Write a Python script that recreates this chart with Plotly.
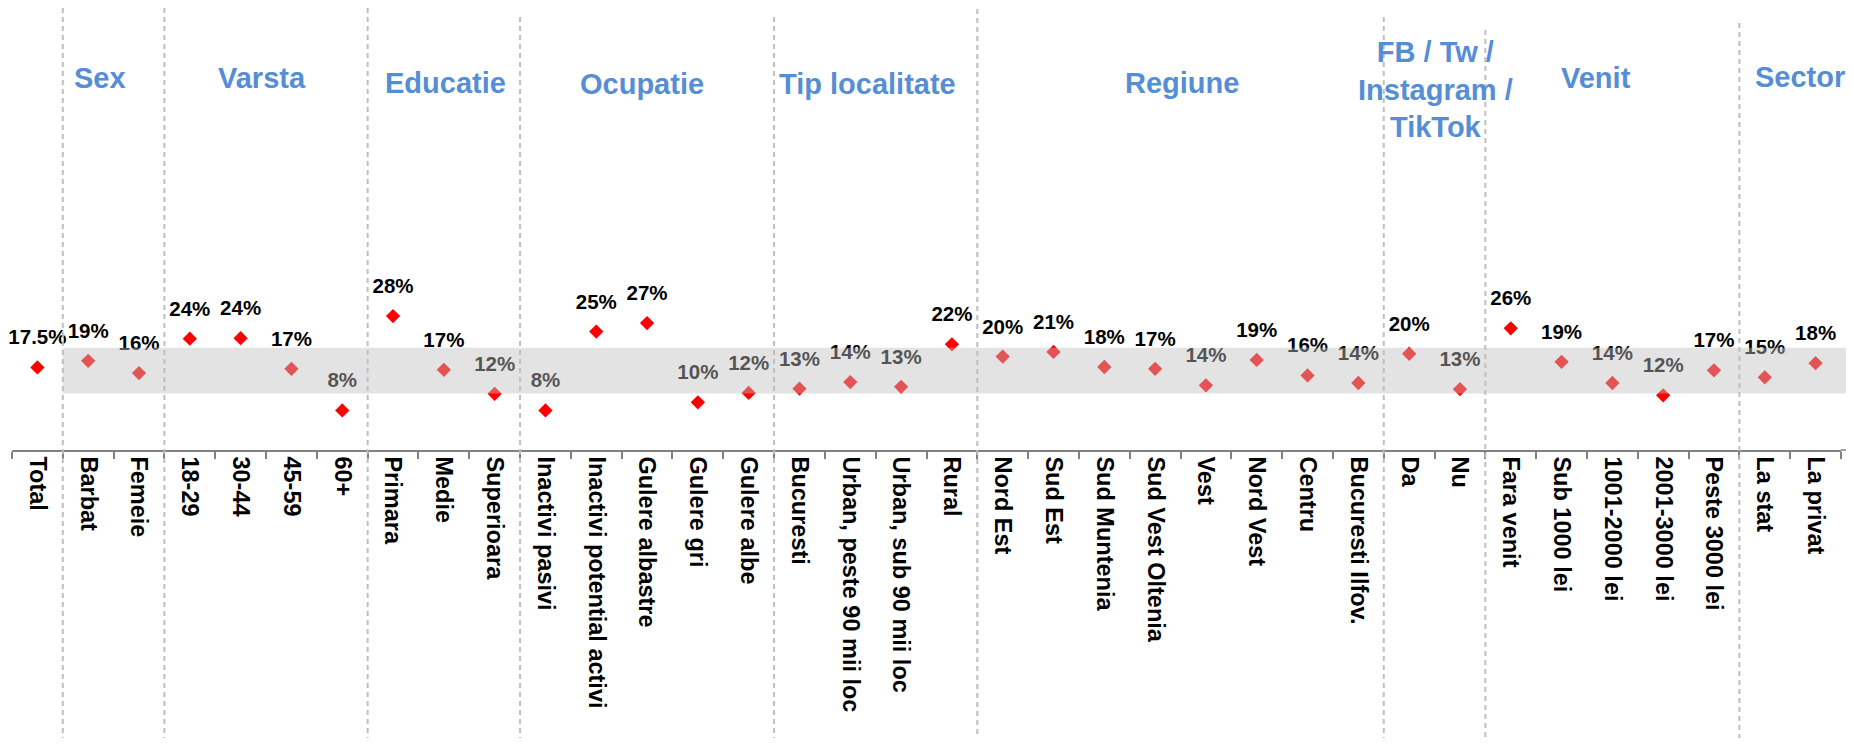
import plotly.graph_objects as go

categories = ["Total", "Barbat", "Femeie", "18-29", "30-44", "45-59", "60+",
              "Primara", "Medie", "Superioara", "Inactivi pasivi",
              "Inactivi potential activi", "Gulere albastre", "Gulere gri",
              "Gulere albe", "Bucuresti", "Urban, peste 90 mii loc",
              "Urban, sub 90 mii loc", "Rural", "Nord Est", "Sud Est",
              "Sud Muntenia", "Sud Vest Oltenia", "Vest", "Nord Vest", "Centru",
              "Bucuresti Ilfov.", "Da", "Nu", "Fara venit", "Sub 1000 lei",
              "1001-2000 lei", "2001-3000 lei", "Peste 3000 lei", "La stat",
              "La privat"]
values = [17.5, 18.9, 16.3, 23.6, 23.7, 17.2, 8.4,
          28.4, 17.0, 11.9, 8.4,
          25.1, 26.9, 10.1,
          12.1, 13.0, 14.4,
          13.4, 22.4, 19.8, 20.8,
          17.6, 17.2, 13.7, 19.1, 15.8,
          14.2, 20.4, 12.9, 25.8, 18.7,
          14.2, 11.6, 16.9, 15.4,
          18.4]
labels = ["17.5%"] + [f"{v:.0f}%" for v in values[1:]]

group_names = ["Sex", "Varsta", "Educatie", "Ocupatie", "Tip localitate",
               "Regiune", "FB / Tw /<br>Instagram /<br>TikTok", "Venit", "Sector"]
group_x = [1.24, 4.42, 8.04, 11.9, 16.33, 22.53, 27.51, 30.68, 34.7]    # position in category units
group_ypx = [78, 78, 83, 84, 84, 83, 89, 78, 77]                        # header centre, px from page top
separators = [1, 3, 7, 10, 15, 19, 27, 29, 34]                          # category boundaries
separator_top_px = [0, 0, 6, 17, 17, 9, 17, 30, 23]

band_low, band_high = 12.0, 21.7
y_min, y_max = 0.0, 93.7

OFF = 8                       # default page body margin
W, H = 1838, 734
ML, MR, MT, MB = 4, 5, 0, 292
plot_h = H - MT - MB
plot_w = W - ML - MR
n = len(categories)

FONT = "Liberation Sans, Arial, sans-serif"

fig = go.Figure()
fig.add_trace(go.Scatter(
    x=categories, y=values, mode="markers",
    marker=dict(symbol="diamond", size=11, color="#FF0000", line=dict(width=0)),
    hoverinfo="skip", showlegend=False))
fig.add_trace(go.Scatter(
    x=categories, y=values, mode="markers+text", text=labels,
    textposition="top center", cliponaxis=False,
    textfont=dict(family=FONT, size=20.5, color="#000000", weight="bold"),
    marker=dict(size=27, color="rgba(0,0,0,0)", line=dict(width=0)),
    hoverinfo="skip", showlegend=False))

shapes = []
x_right = (W - ML) / plot_w
shapes.append(dict(type="rect", xref="paper", yref="paper",
                   x0=1 / n, x1=x_right,
                   y0=(band_low - y_min) / (y_max - y_min),
                   y1=(band_high - y_min) / (y_max - y_min),
                   fillcolor="rgba(192,192,192,0.44)", line=dict(width=0),
                   layer="above"))
for b, top in zip(separators, separator_top_px):
    top_fig = max(top - OFF, 0)
    shapes.append(dict(type="line", xref="paper", yref="paper",
                       x0=b / n, x1=b / n,
                       y0=1 - top_fig / plot_h, y1=1 - (738 - OFF) / plot_h,
                       line=dict(color="#BFBFBF", width=2, dash="5px,4px"),
                       layer="above"))
shapes.append(dict(type="line", xref="paper", yref="paper",
                   x0=1, x1=x_right, y0=0, y1=0,
                   line=dict(color="#808080", width=1.5), layer="above"))

annotations = []
for name, gx, gy in zip(group_names, group_x, group_ypx):
    annotations.append(dict(
        text=name, xref="paper", yref="paper",
        x=(gx + 0.5) / n, y=1 - (gy - OFF) / plot_h,
        xanchor="center", yanchor="middle", showarrow=False, align="center",
        font=dict(family=FONT, size=29, color="#558ED5", weight="bold")))

fig.update_layout(
    width=W, height=H,
    margin=dict(l=ML, r=MR, t=MT, b=MB, pad=0),
    plot_bgcolor="white", paper_bgcolor="white",
    showlegend=False,
    shapes=shapes, annotations=annotations,
    xaxis=dict(type="category", categoryorder="array", categoryarray=categories,
               range=[-0.5, n - 0.5], tickson="boundaries", ticks="outside",
               ticklen=7, tickwidth=1.5, tickcolor="#808080",
               showline=True, linecolor="#808080", linewidth=1.5,
               showgrid=False, zeroline=False, tickangle=90,
               tickfont=dict(family=FONT, size=23.5, color="#000000", weight="bold"),
               automargin=False, fixedrange=True),
    yaxis=dict(range=[y_min, y_max], visible=False, showgrid=False,
               zeroline=False, fixedrange=True),
)

fig.write_html("out.html")
